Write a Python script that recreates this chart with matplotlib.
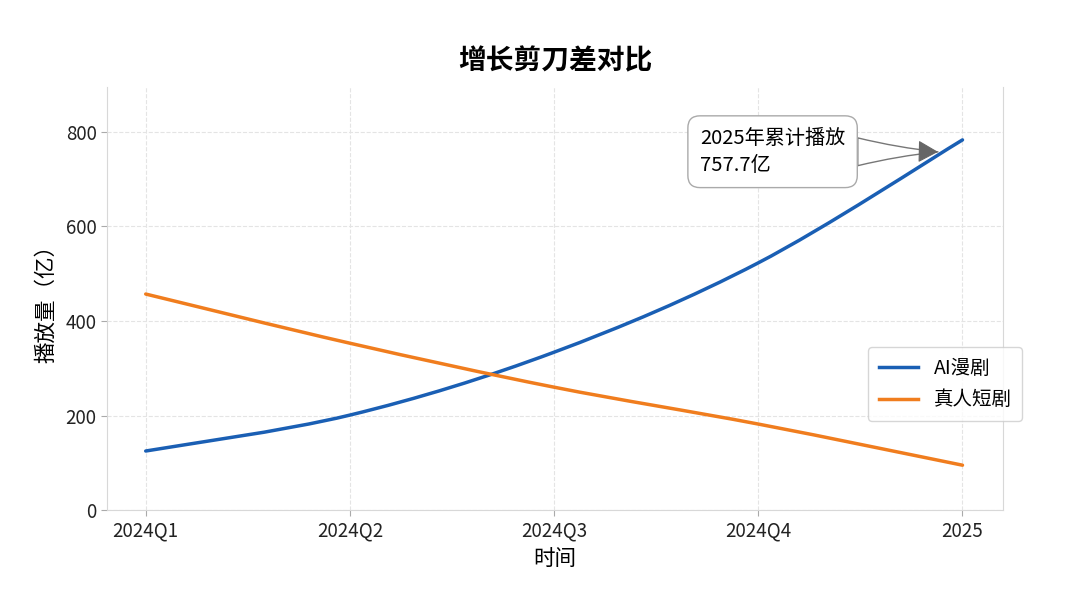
import matplotlib
matplotlib.use("Agg")
import matplotlib.pyplot as plt
from matplotlib.path import Path
from matplotlib.patches import PathPatch
import numpy as np

plt.rcParams['font.family'] = ['Noto Sans CJK SC', 'DejaVu Sans']
plt.rcParams['axes.unicode_minus'] = False

# 数据
periods = ["2024Q1", "2024Q2", "2024Q3", "2024Q4", "2025"]
ai_drama = [125, 201, 334, 523, 783]
live_drama = [457, 353, 260, 182, 95]
note_text = "2025年累计播放\n757.7亿"
note_value = 757.7


def smooth_path(xs, ys):
    # Catmull-Rom 转成三次贝塞尔，只是画法，不改数据
    pts = np.column_stack([np.asarray(xs, float), np.asarray(ys, float)])
    verts = [pts[0]]
    codes = [Path.MOVETO]
    n = len(pts)
    for i in range(n - 1):
        p0 = pts[i - 1] if i > 0 else pts[i]
        p1 = pts[i]
        p2 = pts[i + 1]
        p3 = pts[i + 2] if i + 2 < n else pts[i + 1]
        verts += [p1 + (p2 - p0) / 6, p2 - (p3 - p1) / 6, p2]
        codes += [Path.CURVE4] * 3
    return Path(verts, codes)


fig = plt.figure(figsize=(10.8, 6.08), dpi=100)
ax = fig.add_axes([0.099, 0.161, 0.83, 0.696])

x = np.arange(len(periods))
series = [(ai_drama, "#1a5fb4", "AI漫剧"), (live_drama, "#f07d1e", "真人短剧")]
for vals, color, name in series:
    patch = PathPatch(smooth_path(x, vals), facecolor="none", edgecolor=color,
                      lw=2.5, capstyle="round", transform=ax.transData, zorder=3)
    ax.add_patch(patch)
    ax.plot([], [], color=color, lw=2.5, label=name)  # 图例用

ax.set_xlim(-0.19, 4.2)
ax.set_ylim(0, 895)
ax.set_xticks(x)
ax.set_xticklabels(periods)
ax.set_yticks([0, 200, 400, 600, 800])
ax.tick_params(labelsize=13.5, labelcolor="#222222", color="#aaaaaa", length=4)
ax.grid(True, ls="--", color="#e4e4e4", lw=0.8)
for s in ax.spines.values():
    s.set_color("#d8d8d8")
ax.spines["top"].set_visible(False)

ax.set_title("增长剪刀差对比", fontsize=20, fontweight="bold", pad=13)
ax.set_xlabel("时间", fontsize=15.5, labelpad=5)
ax.set_ylabel("播放量（亿）", fontsize=15.5, labelpad=6)

# 注释框 + 楔形箭头
ax.annotate(note_text, xy=(3.88, note_value), xytext=(3.07, 758),
            fontsize=14.5, va="center", ha="center", multialignment="left",
            linespacing=1.35,
            bbox=dict(boxstyle="round,pad=0.6", fc="white", ec="#aaaaaa", lw=1),
            arrowprops=dict(arrowstyle="wedge,tail_width=1.0,shrink_factor=0.4",
                            fc="white", ec="#777777", lw=1,
                            mutation_scale=20, shrinkA=0, shrinkB=0))
ax.annotate("", xy=(3.88, note_value), xytext=(-13, 0.3), textcoords="offset points",
            arrowprops=dict(arrowstyle="-|>,head_length=0.45,head_width=0.25",
                            fc="#666666", ec="#666666", lw=0.8,
                            mutation_scale=28, shrinkA=0, shrinkB=0))

leg = ax.legend(loc="center right", bbox_to_anchor=(1.032, 0.298), fontsize=14,
                frameon=True, fancybox=True, handlelength=2.0, labelspacing=0.55,
                borderpad=0.55)
leg.get_frame().set_edgecolor("#cccccc")

fig.savefig("out.png", dpi=100)
